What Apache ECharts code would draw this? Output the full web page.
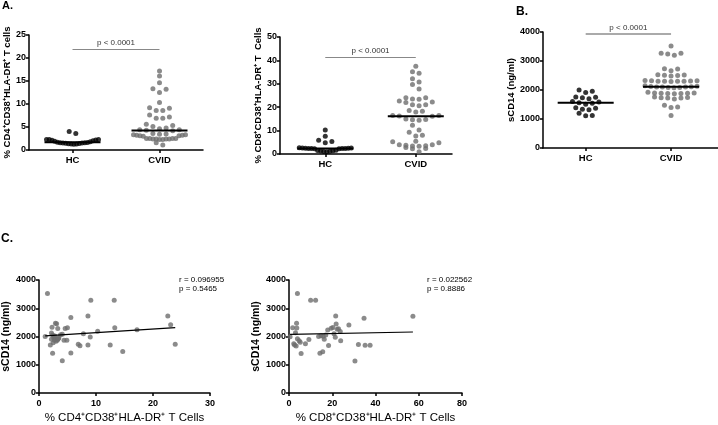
<!DOCTYPE html>
<html>
<head>
<meta charset="utf-8">
<script src="https://cdn.jsdelivr.net/npm/echarts@6.0.0/dist/echarts.min.js"></script>
<style>
html, body {margin: 0; padding: 0; background: #fff;}
#main {width: 718px; height: 425px;}
</style>
</head>
<body>
<div id="main"></div>
<script>
// groups on the dot plots
var groups = ['HC', 'CVID'];

// A (left): % CD4+CD38+HLA-DR+ T cells
var a1HC = [4.0, 3.6, 2.3, 2.3, 2.3, 2.2, 2.1, 2.0, 1.9, 1.8, 1.7, 1.65, 1.6, 1.55, 1.5, 1.5, 1.45, 1.4, 1.35, 1.3, 1.3, 1.25];
var a1CVID = [17.2, 16.1, 14.6, 13.3, 13.2, 12.5, 10.3, 9.2, 9.1, 8.6, 8.6, 7.6, 7.2, 6.9, 6.9, 5.6, 5.3, 5.1, 4.8, 4.6, 4.4, 4.4, 4.3,
    4.2, 3.6, 3.5, 3.4, 3.3, 3.3, 3.2, 3.2, 3.1, 3.1, 3.0, 2.5, 2.5, 2.4, 2.4, 2.4, 2.4, 2.3, 2.3, 2.5, 2.5, 1.6, 1.1];

// A (right): % CD8+CD38+HLA-DR+ T cells
var a2HC = [10.3, 7.6, 5.9, 5.3, 4.8, 2.7, 2.6, 2.6, 2.5, 2.5, 2.4, 2.4, 2.3, 2.3, 2.2, 2.2, 1.6, 1.5, 1.4, 1.3, 1.2, 1.1, 1.0];
var a2CVID = [37.5, 35.2, 34.5, 32.2, 30.8, 29.7, 27.8, 24.0, 24.0, 23.5, 23.4, 22.7, 22.2, 22.0, 21.1, 21.0, 20.6, 18.6, 18.3, 18.0,
    16.5, 16.4, 16.2, 16.1, 15.0, 14.7, 14.6, 14.4, 12.3, 10.3, 9.3, 8.0, 7.7, 5.5, 5.2, 4.8, 4.0, 3.9, 3.7, 3.5, 3.4, 3.3, 2.8, 2.4, 2.2, 1.0];

// B: sCD14 (ng/ml)
var bHC = [2000, 1960, 1910, 1760, 1750, 1730, 1700, 1600, 1590, 1560, 1540, 1510, 1390, 1370, 1340, 1320, 1200, 1120, 1110];
var bCVID = [3520, 3270, 3240, 3200, 3270, 2720, 2730, 2660, 2530, 2520, 2510, 2500, 2480, 2330, 2320, 2300, 2300, 2310, 2300, 2290,
    2300, 2320, 2150, 2120, 2100, 2100, 2090, 2080, 2100, 2090, 2110, 2130, 1920, 1900, 1890, 1880, 1870, 1880, 1890, 1900,
    1740, 1720, 1690, 1720, 1730, 1760, 1470, 1410, 1400, 1120];

// C: [% T cells, sCD14]
var c1Pts = [[1.1, 2000], [1.5, 3520], [2.0, 1700], [2.2, 2120], [2.2, 1900], [2.3, 2330], [2.4, 2050], [2.4, 1410], [2.5, 1780],
    [2.6, 1950], [2.7, 1880], [2.7, 2000], [2.8, 2020], [2.9, 2470], [3.0, 1830], [3.1, 2450], [3.2, 1870], [3.3, 2280], [3.3, 1900],
    [3.4, 1930], [3.5, 1960], [3.8, 2060], [4.1, 2080], [4.1, 1140], [4.4, 1870], [4.6, 2280], [4.9, 1870], [5.0, 2310], [5.6, 2670],
    [5.6, 1420], [6.9, 1730], [7.2, 1670], [7.8, 2100], [8.6, 2730], [8.6, 1700], [9.0, 1980], [9.1, 3280], [10.3, 2190], [12.5, 1700],
    [13.2, 3280], [13.3, 2310], [14.7, 1470], [17.2, 2240], [22.6, 2730], [23.1, 2420], [23.9, 1730]];
var c2Pts = [[0.5, 1990], [1.7, 2310], [2.2, 1740], [2.6, 1700], [3.0, 2130], [3.3, 1660], [3.5, 2470], [3.6, 2300], [3.9, 3520],
    [3.9, 1920], [4.7, 1850], [5.2, 1800], [5.6, 1400], [7.6, 1740], [9.2, 1890], [10.0, 3280], [12.3, 3280], [13.7, 2000], [14.3, 1410],
    [14.8, 2030], [15.6, 1460], [15.8, 2010], [16.3, 1900], [17.0, 2050], [17.9, 2230], [18.3, 1680], [19.5, 2290], [20.3, 2320],
    [20.8, 2100], [21.4, 1970], [21.6, 2730], [21.8, 2440], [22.3, 2260], [22.9, 2270], [23.7, 2180], [23.9, 1850], [27.7, 2410],
    [30.5, 1130], [32.1, 1720], [34.7, 2650], [35.2, 1690], [37.5, 1690], [57.3, 2720]];

var c1Stats = ['r = 0.096955', 'p = 0.5465'];
var c2Stats = ['r = 0.022562', 'p = 0.8886'];
var pText = 'p < 0.0001';

var FONT = '"Liberation Sans", Arial, sans-serif';
var GAP = 6.6;       // spacing between dots in a row (px)
var ROW_H = 5;       // values closer than this (px) share a row
var MAX_SPAN = 52;   // widest row (px), rows get squeezed past that

// dot plot layout like prism: rows of close values, lowest in the middle
function swarm(vals, center, pxX, pxY) {
    var s = vals.slice().sort(function (a, b) { return a - b; });
    var out = [];
    var i = 0;
    while (i < s.length) {
        var start = s[i], row = [];
        while (i < s.length && (s[i] - start) * pxY < ROW_H) { row.push(s[i]); i++; }
        var n = row.length;
        var step = n > 1 ? Math.min(GAP, MAX_SPAN / (n - 1)) : 0;
        row.forEach(function (v, k) {
            var slot;
            if (n % 2) {
                slot = k === 0 ? 0 : (k % 2 ? (k + 1) / 2 : -k / 2);
            } else {
                var m = Math.floor(k / 2) + 0.5;
                slot = k % 2 ? -m : m;
            }
            out.push([center + slot * step / pxX, v]);
        });
    }
    return out;
}

function median(vals) {
    var s = vals.slice().sort(function (a, b) { return a - b; });
    var n = s.length;
    return n % 2 ? s[(n - 1) / 2] : (s[n / 2 - 1] + s[n / 2]) / 2;
}

function fitLine(pts) {
    var n = pts.length, sx = 0, sy = 0, sxx = 0, sxy = 0, mn = Infinity, mx = -Infinity;
    pts.forEach(function (p) {
        sx += p[0]; sy += p[1]; sxx += p[0] * p[0]; sxy += p[0] * p[1];
        mn = Math.min(mn, p[0]); mx = Math.max(mx, p[0]);
    });
    var b = (n * sxy - sx * sy) / (n * sxx - sx * sx);
    var a = (sy - b * sx) / n;
    return [[mn, a + b * mn], [mx, a + b * mx]];
}

var dotPanels = [
    {left: 29, top: 35, width: 174, height: 115, yMax: 25, yStep: 5, xMax: 4, hc: a1HC, cvid: a1CVID, pY: 22,
        pColor: '#888', pWidth: 1, name: '% CD4\u207ACD38\u207AHLA-DR\u207A T cells', nameGap: 15, nameSize: 9.5},
    {left: 280, top: 37, width: 172, height: 117, yMax: 50, yStep: 10, xMax: 3.8, hc: a2HC, cvid: a2CVID, pY: 41.5,
        pColor: '#888', pWidth: 1, name: '% CD8\u207ACD38\u207AHLA-DR\u207A T  Cells', nameGap: 14, nameSize: 9.5},
    {left: 543, top: 32, width: 175, height: 116, yMax: 4000, yStep: 1000, xMax: 4.1, hc: bHC, cvid: bCVID, pY: 3930,
        pColor: '#aaa', pWidth: 2, name: 'sCD14 (ng/ml)', nameGap: 27, nameSize: 9.5}
];
var scatterPanels = [
    {left: 36, top: 280, width: 174, height: 116, xMax: 30, xStep: 10, pts: c1Pts,
        xName: '% CD4\u207ACD38\u207AHLA-DR\u207A T Cells'},
    {left: 289, top: 280, width: 173, height: 116, xMax: 80, xStep: 20, pts: c2Pts,
        xName: '% CD8\u207ACD38\u207AHLA-DR\u207A T Cells'}
];

var axisLine = {show: true, lineStyle: {color: '#000', width: 1.5}};
var axisTick = {show: true, length: 3, lineStyle: {color: '#000', width: 1.5}};
var tickFont = {fontFamily: FONT, fontWeight: 'bold', fontSize: 9, color: '#000',
    formatter: function (v) { return String(v); }};

var grid = [], xAxis = [], yAxis = [], series = [];

dotPanels.forEach(function (d, i) {
    grid.push({left: d.left, top: d.top, width: d.width, height: d.height});
    xAxis.push({
        gridIndex: i, type: 'value', min: 0, max: d.xMax,
        axisLine: axisLine, splitLine: {show: false},
        axisTick: {show: true, length: 3, lineStyle: {color: '#000', width: 1.5}, customValues: [1, 3]},
        axisLabel: {customValues: [1, 3], margin: 5, fontSize: 9.5,
            fontFamily: FONT, fontWeight: 'bold', color: '#000',
            formatter: function (v) { return v === 1 ? groups[0] : (v === 3 ? groups[1] : ''); }}
    });
    yAxis.push({
        gridIndex: i, type: 'value', min: 0, max: d.yMax, interval: d.yStep,
        axisLine: axisLine, axisTick: axisTick, splitLine: {show: false},
        axisLabel: Object.assign({margin: 3}, tickFont),
        name: d.name, nameLocation: 'middle', nameRotate: 90, nameGap: d.nameGap,
        nameTextStyle: {fontFamily: FONT, fontWeight: 'bold', fontSize: d.nameSize, color: '#000'}
    });
    var pxX = d.width / d.xMax, pxY = d.height / d.yMax;
    var half = 28 / pxX;
    series.push({
        type: 'scatter', xAxisIndex: i, yAxisIndex: i, symbolSize: 5, silent: true,
        itemStyle: {color: '#000'}, data: swarm(d.hc, 1, pxX, pxY)
    });
    series.push({
        type: 'scatter', xAxisIndex: i, yAxisIndex: i, symbolSize: 5, silent: true,
        itemStyle: {color: '#6e6e6e'}, data: swarm(d.cvid, 3, pxX, pxY),
        markLine: {
            silent: true, symbol: ['none', 'none'],
            lineStyle: {color: d.pColor, width: d.pWidth, type: 'solid'},
            label: {show: true, position: 'insideMiddleTop', distance: 2, formatter: pText,
                fontFamily: FONT, fontSize: 8, color: '#333'},
            data: [[{coord: [1, d.pY]}, {coord: [3, d.pY]}]]
        }
    });
    [[1, d.hc], [3, d.cvid]].forEach(function (g) {
        var m = median(g[1]);
        series.push({
            type: 'line', xAxisIndex: i, yAxisIndex: i, symbol: 'none', silent: true, z: 5,
            lineStyle: {color: '#000', width: 2}, data: [[g[0] - half, m], [g[0] + half, m]]
        });
    });
});

scatterPanels.forEach(function (s, k) {
    var i = dotPanels.length + k;
    grid.push({left: s.left, top: s.top, width: s.width, height: s.height});
    xAxis.push({
        gridIndex: i, type: 'value', min: 0, max: s.xMax, interval: s.xStep,
        axisLine: axisLine, axisTick: axisTick, splitLine: {show: false},
        axisLabel: Object.assign({margin: 6}, tickFont),
        name: s.xName, nameLocation: 'middle', nameGap: 19,
        nameTextStyle: {fontFamily: FONT, fontSize: 11.5, color: '#000'}
    });
    yAxis.push({
        gridIndex: i, type: 'value', min: 0, max: 4000, interval: 1000,
        axisLine: axisLine, axisTick: axisTick, splitLine: {show: false},
        axisLabel: Object.assign({margin: 3}, tickFont),
        name: 'sCD14 (ng/ml)', nameLocation: 'middle', nameRotate: 90, nameGap: 26,
        nameTextStyle: {fontFamily: FONT, fontWeight: 'bold', fontSize: 10.5, color: '#000'}
    });
    series.push({
        type: 'scatter', xAxisIndex: i, yAxisIndex: i, symbolSize: 5, silent: true,
        itemStyle: {color: '#6e6e6e'}, data: s.pts
    });
    series.push({
        type: 'line', xAxisIndex: i, yAxisIndex: i, symbol: 'none', silent: true, z: 5,
        lineStyle: {color: '#000', width: 1.2}, data: fitLine(s.pts)
    });
});

function txt(x, y, t, size, bold) {
    return {type: 'text', left: x, top: y, silent: true,
        style: {text: t, fontFamily: FONT, fontSize: size, fontWeight: bold ? 'bold' : 'normal', fill: '#000'}};
}

var option = {
    animation: false,
    grid: grid, xAxis: xAxis, yAxis: yAxis, series: series,
    graphic: [
        txt(2, 0, 'A.', 11, true),
        txt(516, 6, 'B.', 12, true),
        txt(1, 233, 'C.', 12, true),
        txt(179, 276, c1Stats[0], 8), txt(179, 285, c1Stats[1], 8),
        txt(427, 276, c2Stats[0], 8), txt(427, 285, c2Stats[1], 8)
    ]
};

var myChart = echarts.init(document.getElementById('main'));
myChart.setOption(option);
</script>
</body>
</html>
